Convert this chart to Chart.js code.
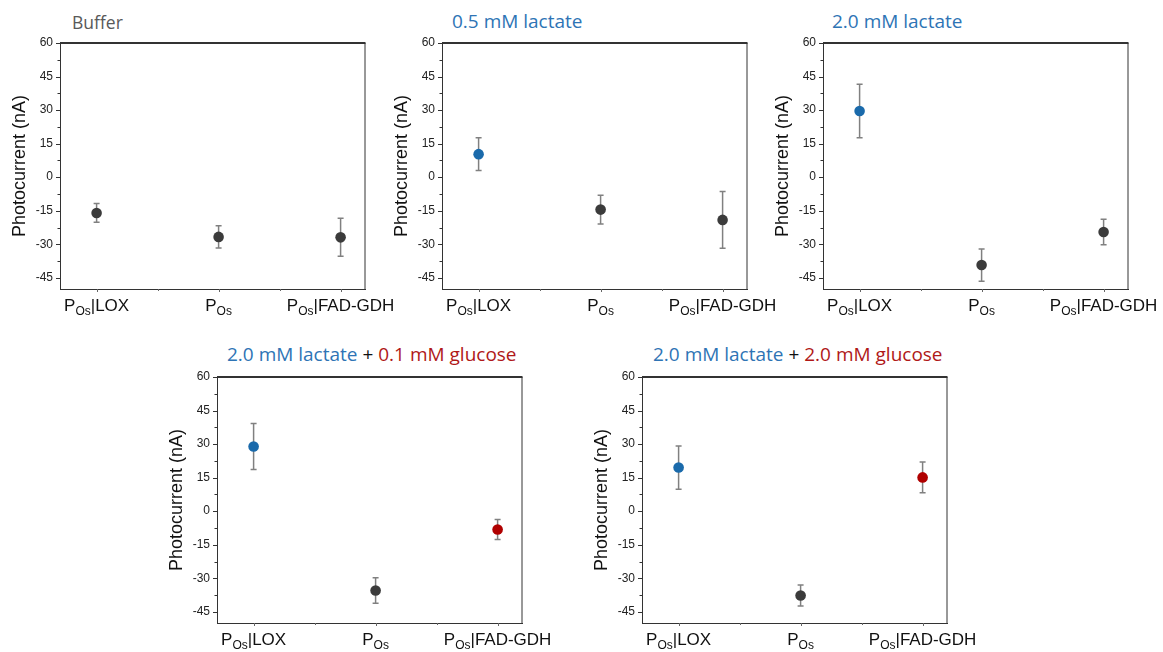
<!DOCTYPE html>
<html>
<head>
<meta charset="utf-8">
<script src="https://cdn.jsdelivr.net/npm/chart.js"></script>
<style>
  body { margin: 0; background: #fff; width: 1163px; height: 652px; overflow: hidden; position: relative; }
  .panel { position: absolute; width: 420px; height: 335px; }
  .title { position: absolute; font-family: 'Open Sans', sans-serif; font-size: 19px; line-height: 20px; white-space: nowrap; }
  .buf { color: #595959; font-size: 17.5px; }
  .lac { color: #2e74b5; }
  .glu { color: #b01818; }
  .plus { color: #111; }
</style>
</head>
<body>
<div class="title buf" style="left:72px;top:12px">Buffer</div>
<div class="title lac" style="left:452px;top:11px">0.5 mM lactate</div>
<div class="title lac" style="left:832px;top:11px">2.0 mM lactate</div>
<div class="title" style="left:227px;top:344px"><span class="lac">2.0 mM lactate</span> <span class="plus">+</span> <span class="glu">0.1 mM glucose</span></div>
<div class="title" style="left:653px;top:344px"><span class="lac">2.0 mM lactate</span> <span class="plus">+</span> <span class="glu">2.0 mM glucose</span></div>

<div class="panel" style="left:0px;top:0px"><canvas id="buffer"></canvas></div>
<div class="panel" style="left:382px;top:0px"><canvas id="lac05"></canvas></div>
<div class="panel" style="left:763px;top:0px"><canvas id="lac20"></canvas></div>
<div class="panel" style="left:157px;top:334px"><canvas id="glu01"></canvas></div>
<div class="panel" style="left:582px;top:334px"><canvas id="glu20"></canvas></div>

<script>
// electrode labels: base letter, subscript, rest of label
const categories = [
    { base: 'P', sub: 'Os', tail: '|LOX' },
    { base: 'P', sub: 'Os', tail: '' },
    { base: 'P', sub: 'Os', tail: '|FAD-GDH' }
];

const yTicks = [-45, -30, -15, 0, 15, 30, 45, 60];
const yMinorTicks = [-37.5, -22.5, -7.5, 7.5, 22.5, 37.5, 52.5];

// mean photocurrent (nA) and error per electrode
const bufferMean = [-16.0, -26.7, -26.9];
const bufferErr = [4.2, 5.0, 8.5];
const lac05Mean = [10.3, -14.5, -19.1];
const lac05Err = [7.3, 6.4, 12.7];
const lac20Mean = [29.6, -39.3, -24.5];
const lac20Err = [12.0, 7.2, 5.7];
const glu01Mean = [28.9, -35.5, -8.2];
const glu01Err = [10.3, 5.7, 4.5];
const glu20Mean = [19.5, -37.7, 15.1];
const glu20Err = [9.7, 4.7, 6.9];

const GRAY = '#3b3b3b';
const BLUE = '#1a6aab';
const RED = '#b00000';

const frameColor = '#333';

// error bars, drawn under the markers
const errorBars = {
    id: 'errorBars',
    beforeDatasetsDraw(chart) {
        const ctx = chart.ctx;
        const x = chart.scales.x, y = chart.scales.y;
        const ds = chart.data.datasets[0];
        ctx.save();
        ctx.strokeStyle = '#808080';
        ctx.lineWidth = 1.5;
        ds.data.forEach(function(p, i) {
            const e = ds.errors[i];
            const px = x.getPixelForValue(p.x);
            const top = y.getPixelForValue(p.y + e);
            const bot = y.getPixelForValue(p.y - e);
            ctx.beginPath();
            ctx.moveTo(px, top); ctx.lineTo(px, bot);
            ctx.moveTo(px - 3, top); ctx.lineTo(px + 3, top);
            ctx.moveTo(px - 3, bot); ctx.lineTo(px + 3, bot);
            ctx.stroke();
        });
        ctx.restore();
    }
};

// box frame, tick marks and subscripted category labels
const frame = {
    id: 'frame',
    afterDraw(chart) {
        const ctx = chart.ctx;
        const a = chart.chartArea;
        const x = chart.scales.x, y = chart.scales.y;
        ctx.save();
        ctx.strokeStyle = frameColor;

        ctx.lineWidth = 2;
        ctx.beginPath();
        ctx.moveTo(a.left, a.top); ctx.lineTo(a.right + 0.5, a.top);
        ctx.stroke();
        ctx.lineWidth = 1;
        ctx.beginPath();
        ctx.moveTo(a.right, a.top); ctx.lineTo(a.right, a.bottom);
        ctx.stroke();

        ctx.beginPath();
        yTicks.forEach(function(v) {
            const py = Math.round(y.getPixelForValue(v)) + 0.5;
            ctx.moveTo(a.left - 4, py); ctx.lineTo(a.left, py);
        });
        yMinorTicks.forEach(function(v) {
            const py = Math.round(y.getPixelForValue(v)) + 0.5;
            ctx.moveTo(a.left - 2.5, py); ctx.lineTo(a.left, py);
        });
        ctx.stroke();

        ctx.strokeStyle = '#666';
        ctx.beginPath();
        [1, 1.5, 2, 2.5, 3].forEach(function(v) {
            const px = Math.round(x.getPixelForValue(v)) + 0.5;
            ctx.moveTo(px, a.bottom); ctx.lineTo(px, a.bottom + (v % 1 ? 2 : 3));
        });
        ctx.stroke();

        const mainFont = '17px "Liberation Sans", Arial, sans-serif';
        const subFont = '12px "Liberation Sans", Arial, sans-serif';
        const base = a.bottom + 22;
        ctx.fillStyle = '#111';
        ctx.textBaseline = 'alphabetic';
        ctx.textAlign = 'left';
        categories.forEach(function(c, i) {
            ctx.font = mainFont;
            const w1 = ctx.measureText(c.base).width;
            const w3 = ctx.measureText(c.tail).width;
            ctx.font = subFont;
            const w2 = ctx.measureText(c.sub).width;
            let cx = x.getPixelForValue(i + 1) - (w1 + w2 + w3) / 2;
            ctx.font = mainFont;
            ctx.fillText(c.base, cx, base);
            cx += w1;
            ctx.font = subFont;
            ctx.fillText(c.sub, cx, base + 3.5);
            cx += w2;
            ctx.font = mainFont;
            ctx.fillText(c.tail, cx, base);
        });
        ctx.restore();
    }
};

function makePanel(id, means, errs, colors) {
    const ctx = document.getElementById(id).getContext('2d');
    return new Chart(ctx, {
        type: 'scatter',
        data: {
            datasets: [{
                data: means.map(function(v, i) { return { x: i + 1, y: v }; }),
                errors: errs,
                pointRadius: 5.3,
                pointHoverRadius: 5.3,
                pointBorderWidth: 0,
                pointBackgroundColor: colors,
                showLine: false
            }]
        },
        options: {
            responsive: true,
            maintainAspectRatio: false,
            animation: false,
            events: [],
            layout: { padding: { top: 43, right: 55, left: 0, bottom: 0 } },
            plugins: {
                legend: { display: false },
                tooltip: { enabled: false }
            },
            scales: {
                x: {
                    type: 'linear',
                    min: 0.7,
                    max: 3.2,
                    afterBuildTicks: function(scale) {
                        scale.ticks = [1, 2, 3].map(function(v) { return { value: v }; });
                    },
                    afterFit: function(scale) { scale.height = 46; },
                    ticks: { display: false },
                    grid: { display: false },
                    border: { display: true, color: frameColor, width: 1 }
                },
                y: {
                    min: -50,
                    max: 60,
                    afterBuildTicks: function(scale) {
                        scale.ticks = yTicks.map(function(v) { return { value: v }; });
                    },
                    afterFit: function(scale) { scale.width = 60; },
                    ticks: {
                        padding: 3,
                        color: '#222',
                        font: { family: '"Liberation Sans", Arial, sans-serif', size: 12 },
                        callback: function(v) { return String(v); }
                    },
                    grid: { display: false, drawTicks: true, tickLength: 4 },
                    border: { display: true, color: frameColor, width: 1 },
                    title: {
                        display: true,
                        text: 'Photocurrent (nA)',
                        color: '#111',
                        padding: { top: 9, bottom: 0 },
                        font: { family: '"Liberation Sans", Arial, sans-serif', size: 18 }
                    }
                }
            }
        },
        plugins: [errorBars, frame]
    });
}

makePanel('buffer', bufferMean, bufferErr, [GRAY, GRAY, GRAY]);
makePanel('lac05', lac05Mean, lac05Err, [BLUE, GRAY, GRAY]);
makePanel('lac20', lac20Mean, lac20Err, [BLUE, GRAY, GRAY]);
makePanel('glu01', glu01Mean, glu01Err, [BLUE, GRAY, RED]);
makePanel('glu20', glu20Mean, glu20Err, [BLUE, GRAY, RED]);
</script>
</body>
</html>
